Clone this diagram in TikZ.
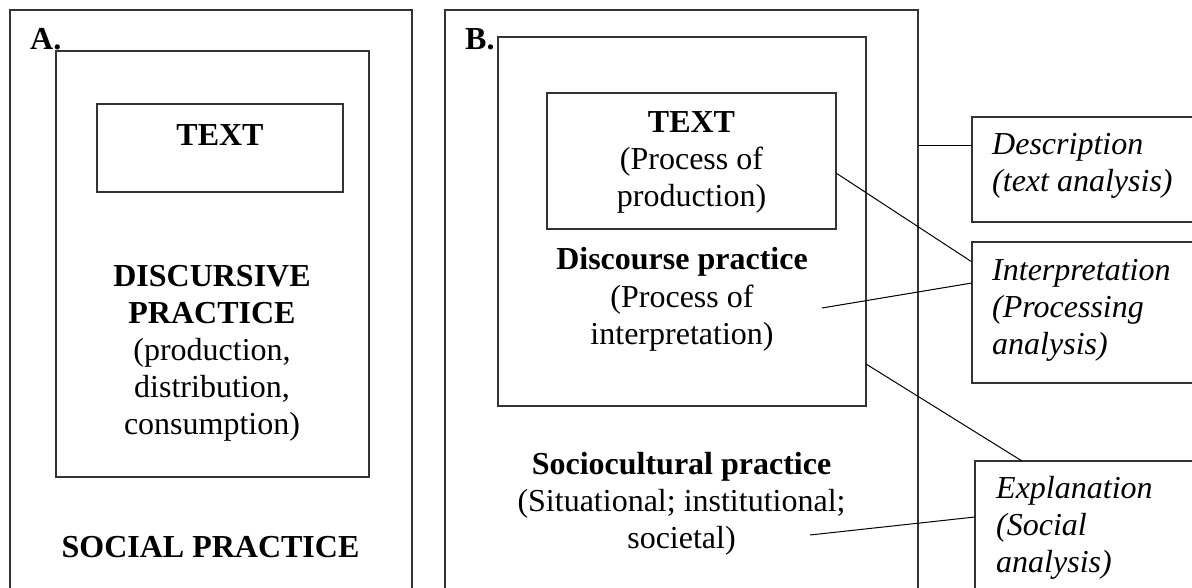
\documentclass[tikz,border=0pt]{standalone}
\usepackage{fontspec}
\setmainfont{Liberation Serif}
\usetikzlibrary{calc}

\begin{document}
\begin{tikzpicture}[x=1pt, y=-1pt,
    box/.style={draw=black!80, line width=1.4pt, inner sep=0pt, outer sep=0pt, anchor=north west},
    link/.style={draw=black, line width=1pt},
    txt/.style={inner sep=0pt, align=center, anchor=base},
    note/.style={inner sep=0pt, align=left, anchor=base west, font=\itshape}]
  \useasboundingbox (0,0) rectangle (1192,588);
  \clip (0,0) rectangle (1192,588);
  \fontsize{32}{37}\selectfont

  \node[box, minimum width=402pt, minimum height=690pt] (socA) at (10,10) {};
  \node[box, minimum width=313pt, minimum height=426pt] (discA) at (56,51) {};
  \node[box, minimum width=246pt, minimum height=88pt] (textA) at (97,104) {};

  \node[box, minimum width=473pt, minimum height=690pt] (socB) at (445,10) {};
  \node[box, minimum width=368pt, minimum height=369pt] (discB) at (498,37) {};
  \node[box, minimum width=289pt, minimum height=136pt] (textB) at (547,93) {};

  \node[box, minimum width=278pt, minimum height=105pt] (desc) at (972,117) {};
  \node[box, minimum width=278pt, minimum height=141pt] (interp) at (972,242) {};
  \node[box, minimum width=275pt, minimum height=239pt] (expl) at (975,461) {};

  \node[inner sep=0pt, anchor=base west] (labA) at (30,50) {\textbf{A.}};
  \node[txt] (textAlab) at (220,146) {\textbf{TEXT}};
  \node[txt] (discAlab) at (212,434) {\textbf{DISCURSIVE}\\\textbf{PRACTICE}\\(production,\\distribution,\\consumption)};
  \node[txt] (socAlab) at (210.5,557) {\textbf{SOCIAL PRACTICE}};

  \node[inner sep=0pt, anchor=base west] (labB) at (465,50) {\textbf{B.}};
  \node[txt] (textBlab) at (691.5,207) {\textbf{TEXT}\\(Process of\\production)};
  \node[txt] (discBlab) at (682,344) {\textbf{Discourse practice}\\(Process of\\interpretation)};
  \node[txt] (socBlab) at (681.5,548) {\textbf{Sociocultural practice}\\(Situational; institutional;\\societal)};

  \node[note] (desclab) at (992,192) {Description\\(text analysis)};
  \node[note] (interplab) at (992,354) {Interpretation\\(Processing\\analysis)};
  \node[note] (expllab) at (996,572) {Explanation\\(Social\\analysis)};

  \coordinate (descIn) at ($(desc.north west)+(0,29)$);
  \coordinate (dpEnd) at (822,308);
  \coordinate (scEnd) at (810,535);
  \draw[link] (socB.east |- descIn) -- (descIn);
  \draw[link] ($(textB.north east)+(0,80)$) -- ($(interp.north west)+(0,20)$);
  \draw[link] (dpEnd) -- ($(interp.north west)+(0,41)$);
  \draw[link] ($(discB.north east)+(0,327)$) -- ($(expl.north west)+(47,0)$);
  \draw[link] (scEnd) -- ($(expl.north west)+(0,56)$);
\end{tikzpicture}
\end{document}
